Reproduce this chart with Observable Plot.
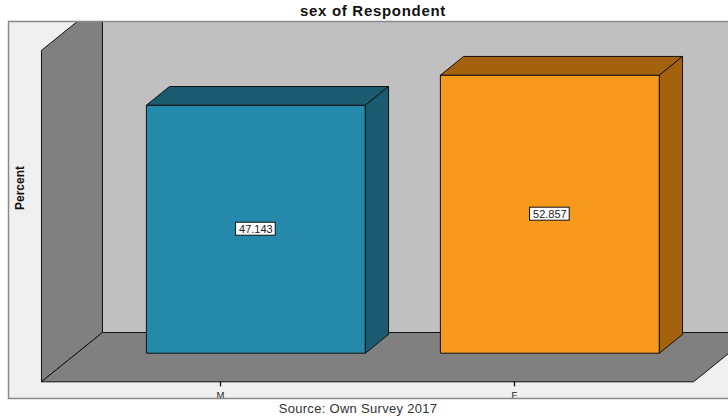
<!DOCTYPE html>
<html><head><meta charset="utf-8">
<script src="https://cdn.jsdelivr.net/npm/d3@7"></script>
<script src="https://cdn.jsdelivr.net/npm/@observablehq/plot@0.6"></script>
<style>
body{margin:0;background:#fff;font-family:"Liberation Sans",Arial,sans-serif;}
#wrap{position:relative;width:728px;height:419px;overflow:hidden;background:#fff;}
#title{position:absolute;left:0;top:0;width:746px;height:20px;line-height:21px;text-align:center;font-weight:bold;font-size:15px;letter-spacing:0.7px;color:#111;}
#chart{position:absolute;left:0;top:20px;width:738px;}
#caption{position:absolute;left:0;top:400px;width:716px;line-height:18px;text-align:center;font-size:13px;color:#333;letter-spacing:0.3px;}
</style></head><body>
<div id="wrap"><div id="title"></div><div id="chart"></div><div id="caption"></div></div>
<script>
// ---- data ----
const titleText = "sex of Respondent";
const captionText = "Source: Own Survey 2017";
const yAxisLabel = "Percent";
const categories = ["M", "F"];
const percents = [47.143, 52.857];
const valueLabels = ["47.143", "52.857"];

// ---- styles ----
const faceColors = ["#2489aa", "#f7991c"];
const shadeColors = ["#1b5b70", "#a4620f"];
const wallBack = "#c0c0c0", wallSide = "#808080", frameBg = "#f0f0f0";

// ---- 3D layout (oblique projection expressed in data units) ----
const PX_PER_CAT = 294, PX_PER_PCT = 5.26;
const DEPTH_DX = 61, DEPTH_DY = 49.3;
const DU = DEPTH_DX / PX_PER_CAT, DV = DEPTH_DY / PX_PER_PCT;
const U0 = -0.609, U1 = 1.609, WALL_TOP = 63;
const HALF = 0.3724, WF = 0.58, WB = 0.96;
const TICK_LEN = 5 / PX_PER_PCT;
const P = (u, v, w) => ({x: u + w * DU, y: v + w * DV});

const poly = (pts, fill, stroke = "#111") => Plot.line([...pts, pts[0]], {
  x: "x", y: "y", fill, stroke, strokeWidth: 1, strokeLinejoin: "miter",
  strokeLinecap: "butt", curve: "linear", clip: true
});

const marks = [Plot.frame({fill: frameBg, stroke: "none"})];
marks.push(poly([P(U0,0,1), P(U1,0,1), P(U1,WALL_TOP,1), P(U0,WALL_TOP,1)], wallBack));
marks.push(poly([P(U0,0,0), P(U0,0,1), P(U0,WALL_TOP,1), P(U0,WALL_TOP,0)], wallSide));
marks.push(poly([P(U0,0,0), P(U1,0,0), P(U1,0,1), P(U0,0,1)], wallSide));

const canvas = document.createElement("canvas").getContext("2d");
canvas.font = "11px 'Liberation Sans', Arial, sans-serif";

categories.forEach((c, i) => {
  const p = percents[i];
  marks.push(poly([P(i-HALF,0,WF), P(i+HALF,0,WF), P(i+HALF,p,WF), P(i-HALF,p,WF)], faceColors[i]));
  marks.push(poly([P(i-HALF,p,WF), P(i+HALF,p,WF), P(i+HALF,p,WB), P(i-HALF,p,WB)], shadeColors[i]));
  marks.push(poly([P(i+HALF,0,WF), P(i+HALF,0,WB), P(i+HALF,p,WB), P(i+HALF,p,WF)], shadeColors[i]));
  const c0 = P(i, p / 2, WF);
  const half = canvas.measureText(valueLabels[i]).width / 2 + 3;
  marks.push(Plot.rect([c0], {x1: "x", x2: "x", y1: "y", y2: "y",
    insetLeft: -half, insetRight: -half, insetTop: -6.5, insetBottom: -6.5,
    fill: "#fff", stroke: "#111", strokeWidth: 1}));
  marks.push(Plot.text([c0], {x: "x", y: "y", text: () => valueLabels[i],
    fontSize: 11, fill: "#222"}));
});

const idx = categories.map((d, i) => i);
marks.push(Plot.ruleX(idx, {x: d => d, y1: 0, y2: -TICK_LEN, stroke: "#111", strokeWidth: 1.3}));
marks.push(Plot.text(idx, {x: d => d, y: 0, dy: 13, text: d => categories[d], fontSize: 9.5, fill: "#222"}));
marks.push(Plot.text([yAxisLabel], {frameAnchor: "left", dx: 12, rotate: -90, text: d => d,
  fontSize: 12, fontWeight: "bold", fill: "#111"}));
marks.push(Plot.frame({stroke: "#8a8a8a", strokeWidth: 1.5}));

const FLOOR_Y = 361.3;
const chart = Plot.plot({
  width: 738, height: 380,
  marginLeft: 8, marginRight: 8, marginTop: 1, marginBottom: 2,
  x: {type: "linear", domain: [0, 1], range: [220, 220 + PX_PER_CAT], axis: null},
  y: {type: "linear", domain: [0, 60], range: [FLOOR_Y, FLOOR_Y - 60 * PX_PER_PCT], axis: null},
  style: {fontFamily: "'Liberation Sans', Arial, sans-serif", background: "transparent", maxWidth: "none"},
  marks
});
document.getElementById("chart").appendChild(chart);
document.getElementById("title").textContent = titleText;
document.getElementById("caption").textContent = captionText;
</script>
</body></html>
